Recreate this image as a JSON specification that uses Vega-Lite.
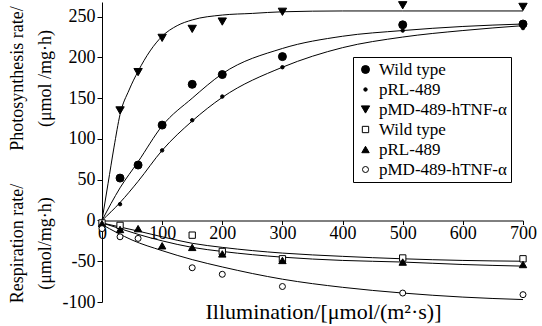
{
  "$schema": "https://vega.github.io/schema/vega-lite/v6.json",
  "width": 421,
  "height": 300,
  "autosize": {"type": "none"},
  "padding": {"left": 102, "top": 2, "right": 19, "bottom": 24},
  "background": "white",
  "config": {
    "view": {"stroke": null},
    "font": "Liberation Serif",
    "axis": {"labelFont": "Liberation Serif", "titleFont": "Liberation Serif", "labelColor": "black", "titleColor": "black", "domainColor": "black", "tickColor": "black", "grid": false, "titleFontWeight": "normal"},
    "legend": {"labelFont": "Liberation Serif"}
  },
  "datasets": {
    "curves": [
      {"curve": "pMD-P", "x": 0, "y": 0}, {"curve": "pMD-P", "x": 10, "y": 45}, {"curve": "pMD-P", "x": 20, "y": 90}, {"curve": "pMD-P", "x": 30, "y": 130}, {"curve": "pMD-P", "x": 45, "y": 160}, {"curve": "pMD-P", "x": 60, "y": 183}, {"curve": "pMD-P", "x": 80, "y": 208}, {"curve": "pMD-P", "x": 100, "y": 226}, {"curve": "pMD-P", "x": 125, "y": 239}, {"curve": "pMD-P", "x": 150, "y": 246}, {"curve": "pMD-P", "x": 200, "y": 252}, {"curve": "pMD-P", "x": 250, "y": 254}, {"curve": "pMD-P", "x": 300, "y": 256}, {"curve": "pMD-P", "x": 400, "y": 257}, {"curve": "pMD-P", "x": 500, "y": 257}, {"curve": "pMD-P", "x": 700, "y": 257},
      {"curve": "WT-P", "x": 0, "y": 0}, {"curve": "WT-P", "x": 30, "y": 40}, {"curve": "WT-P", "x": 60, "y": 72}, {"curve": "WT-P", "x": 100, "y": 116}, {"curve": "WT-P", "x": 150, "y": 150}, {"curve": "WT-P", "x": 200, "y": 180}, {"curve": "WT-P", "x": 300, "y": 211}, {"curve": "WT-P", "x": 400, "y": 226}, {"curve": "WT-P", "x": 500, "y": 233}, {"curve": "WT-P", "x": 600, "y": 238}, {"curve": "WT-P", "x": 700, "y": 241},
      {"curve": "pRL-P", "x": 0, "y": 0}, {"curve": "pRL-P", "x": 30, "y": 22}, {"curve": "pRL-P", "x": 60, "y": 48}, {"curve": "pRL-P", "x": 100, "y": 86}, {"curve": "pRL-P", "x": 150, "y": 122}, {"curve": "pRL-P", "x": 200, "y": 151}, {"curve": "pRL-P", "x": 300, "y": 188}, {"curve": "pRL-P", "x": 400, "y": 212}, {"curve": "pRL-P", "x": 500, "y": 225}, {"curve": "pRL-P", "x": 600, "y": 233}, {"curve": "pRL-P", "x": 700, "y": 239},
      {"curve": "WT-R", "x": 0, "y": -3}, {"curve": "WT-R", "x": 30, "y": -8}, {"curve": "WT-R", "x": 60, "y": -13}, {"curve": "WT-R", "x": 100, "y": -20}, {"curve": "WT-R", "x": 150, "y": -28}, {"curve": "WT-R", "x": 200, "y": -33}, {"curve": "WT-R", "x": 300, "y": -40}, {"curve": "WT-R", "x": 400, "y": -44}, {"curve": "WT-R", "x": 500, "y": -47}, {"curve": "WT-R", "x": 600, "y": -49}, {"curve": "WT-R", "x": 700, "y": -50},
      {"curve": "pRL-R", "x": 0, "y": -3}, {"curve": "pRL-R", "x": 30, "y": -10}, {"curve": "pRL-R", "x": 60, "y": -17}, {"curve": "pRL-R", "x": 100, "y": -25}, {"curve": "pRL-R", "x": 150, "y": -33}, {"curve": "pRL-R", "x": 200, "y": -38}, {"curve": "pRL-R", "x": 300, "y": -45}, {"curve": "pRL-R", "x": 400, "y": -49}, {"curve": "pRL-R", "x": 500, "y": -51}, {"curve": "pRL-R", "x": 600, "y": -54}, {"curve": "pRL-R", "x": 700, "y": -56},
      {"curve": "pMD-R", "x": 0, "y": -5}, {"curve": "pMD-R", "x": 25, "y": -15}, {"curve": "pMD-R", "x": 50, "y": -24}, {"curve": "pMD-R", "x": 100, "y": -37}, {"curve": "pMD-R", "x": 150, "y": -48}, {"curve": "pMD-R", "x": 200, "y": -57}, {"curve": "pMD-R", "x": 300, "y": -72}, {"curve": "pMD-R", "x": 400, "y": -82}, {"curve": "pMD-R", "x": 500, "y": -89}, {"curve": "pMD-R", "x": 600, "y": -94}, {"curve": "pMD-R", "x": 700, "y": -97}
    ],
    "points": [
      {"series": "Wild type (P)", "x": 30, "y": 52}, {"series": "Wild type (P)", "x": 60, "y": 68}, {"series": "Wild type (P)", "x": 100, "y": 117}, {"series": "Wild type (P)", "x": 150, "y": 167}, {"series": "Wild type (P)", "x": 200, "y": 179}, {"series": "Wild type (P)", "x": 300, "y": 201}, {"series": "Wild type (P)", "x": 500, "y": 240}, {"series": "Wild type (P)", "x": 700, "y": 241},
      {"series": "pRL-489 (P)", "x": 30, "y": 20}, {"series": "pRL-489 (P)", "x": 100, "y": 86}, {"series": "pRL-489 (P)", "x": 150, "y": 123}, {"series": "pRL-489 (P)", "x": 200, "y": 152}, {"series": "pRL-489 (P)", "x": 300, "y": 188}, {"series": "pRL-489 (P)", "x": 500, "y": 233}, {"series": "pRL-489 (P)", "x": 700, "y": 236},
      {"series": "pMD-489-hTNF-α (P)", "x": 30, "y": 135}, {"series": "pMD-489-hTNF-α (P)", "x": 60, "y": 182}, {"series": "pMD-489-hTNF-α (P)", "x": 100, "y": 224}, {"series": "pMD-489-hTNF-α (P)", "x": 150, "y": 235}, {"series": "pMD-489-hTNF-α (P)", "x": 200, "y": 244}, {"series": "pMD-489-hTNF-α (P)", "x": 300, "y": 256}, {"series": "pMD-489-hTNF-α (P)", "x": 500, "y": 264}, {"series": "pMD-489-hTNF-α (P)", "x": 700, "y": 262},
      {"series": "Wild type (R)", "x": 0, "y": -3}, {"series": "Wild type (R)", "x": 30, "y": -6}, {"series": "Wild type (R)", "x": 150, "y": -18}, {"series": "Wild type (R)", "x": 200, "y": -38}, {"series": "Wild type (R)", "x": 300, "y": -47}, {"series": "Wild type (R)", "x": 500, "y": -46}, {"series": "Wild type (R)", "x": 700, "y": -47},
      {"series": "pRL-489 (R)", "x": 0, "y": -4}, {"series": "pRL-489 (R)", "x": 30, "y": -11}, {"series": "pRL-489 (R)", "x": 60, "y": -10}, {"series": "pRL-489 (R)", "x": 100, "y": -31}, {"series": "pRL-489 (R)", "x": 150, "y": -33}, {"series": "pRL-489 (R)", "x": 200, "y": -41}, {"series": "pRL-489 (R)", "x": 300, "y": -49}, {"series": "pRL-489 (R)", "x": 500, "y": -51}, {"series": "pRL-489 (R)", "x": 700, "y": -54},
      {"series": "pMD-489-hTNF-α (R)", "x": 0, "y": -10}, {"series": "pMD-489-hTNF-α (R)", "x": 30, "y": -20}, {"series": "pMD-489-hTNF-α (R)", "x": 60, "y": -22}, {"series": "pMD-489-hTNF-α (R)", "x": 150, "y": -58}, {"series": "pMD-489-hTNF-α (R)", "x": 200, "y": -66}, {"series": "pMD-489-hTNF-α (R)", "x": 300, "y": -81}, {"series": "pMD-489-hTNF-α (R)", "x": 500, "y": -89}, {"series": "pMD-489-hTNF-α (R)", "x": 700, "y": -91}
    ]
  },
  "layer": [
    {
      "data": {"name": "curves"},
      "mark": {"type": "line", "interpolate": "monotone", "color": "black", "strokeWidth": 1},
      "encoding": {
        "x": {
          "field": "x", "type": "quantitative",
          "scale": {"domain": [0, 700], "nice": false, "zero": false},
          "axis": {
            "values": [0, 100, 200, 300, 400, 500, 600, 700],
            "offset": -81.5,
            "labelFont": "Liberation Serif", "titleFont": "Liberation Serif",
            "labelFontSize": 18, "labelPadding": 0, "tickSize": 4, "labelFlush": false, "labelOverlap": false,
            "title": "Illumination/[μmol/(m²·s)]", "titleFontSize": 22,
            "titleX": 221, "titleY": 91, "titleBaseline": "middle"
          }
        },
        "y": {
          "field": "y", "type": "quantitative",
          "scale": {"domain": [-100, 268], "nice": false, "zero": false},
          "axis": {
            "orient": "left",
            "values": [-100, -50, 0, 50, 100, 150, 200, 250],
            "labelExpr": "'' + datum.value",
            "labelFont": "Liberation Serif", "titleFont": "Liberation Serif",
            "labelFontSize": 18, "labelPadding": 2, "tickSize": 5, "labelFlush": false, "labelOverlap": false,
            "title": ["Photosynthesis rate/", "(μmol /mg·h)"], "titleFontSize": 18, "titleLineHeight": 28,
            "titleX": -85, "titleY": 76, "titleBaseline": "middle", "titleAngle": -90, "titleAlign": "center"
          }
        },
        "detail": {"field": "curve"}
      }
    },
    {
      "data": {"name": "points"},
      "mark": {"type": "point", "filled": false, "stroke": "black", "strokeWidth": 1, "opacity": 1},
      "encoding": {
        "x": {"field": "x", "type": "quantitative"},
        "y": {
          "field": "y", "type": "quantitative",
          "scale": {"domain": [-100, 268], "nice": false, "zero": false},
          "axis": {
            "orient": "left", "labels": false, "ticks": false, "domain": false,
            "titleFont": "Liberation Serif",
            "title": ["Respiration rate/", "(μmol/mg·h)"], "titleFontSize": 18, "titleLineHeight": 28,
            "titleX": -85, "titleY": 241, "titleBaseline": "middle", "titleAngle": -90, "titleAlign": "center"
          }
        },
        "shape": {
          "field": "series", "type": "nominal",
          "scale": {
            "domain": ["Wild type (P)", "pRL-489 (P)", "pMD-489-hTNF-α (P)", "Wild type (R)", "pRL-489 (R)", "pMD-489-hTNF-α (R)"],
            "range": ["circle", "circle", "triangle-down", "square", "triangle-up", "circle"]
          },
          "legend": {
            "title": null, "orient": "none", "legendX": 251, "legendY": 55,
            "labelExpr": "slice(datum.label, 0, -4)",
            "labelFontSize": 17, "labelColor": "black", "labelOffset": 5,
            "strokeColor": "black", "fillColor": "white", "padding": 4,
            "rowPadding": 2, "symbolStrokeColor": "black", "symbolStrokeWidth": 1
          }
        },
        "fill": {
          "field": "series", "type": "nominal",
          "scale": {
            "domain": ["Wild type (P)", "pRL-489 (P)", "pMD-489-hTNF-α (P)", "Wild type (R)", "pRL-489 (R)", "pMD-489-hTNF-α (R)"],
            "range": ["black", "black", "black", "white", "black", "white"]
          }
        },
        "size": {
          "field": "series", "type": "nominal",
          "scale": {
            "type": "ordinal",
            "domain": ["Wild type (P)", "pRL-489 (P)", "pMD-489-hTNF-α (P)", "Wild type (R)", "pRL-489 (R)", "pMD-489-hTNF-α (R)"],
            "range": [64, 12, 70, 40, 55, 36]
          }
        }
      }
    }
  ],
  "resolve": {"axis": {"y": "independent"}}
}
